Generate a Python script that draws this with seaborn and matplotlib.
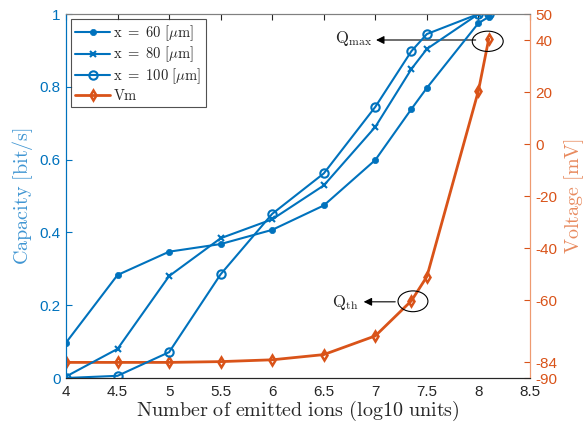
import matplotlib
matplotlib.use("Agg")
import matplotlib.pyplot as plt
import seaborn as sns
import pandas as pd
from matplotlib.patches import Ellipse

sns.set_style("white")
plt.rcParams['font.family'] = ['Liberation Sans', 'DejaVu Sans']
plt.rcParams['mathtext.fontset'] = 'cm'

# data
ions = [4, 4.5, 5, 5.5, 6, 6.5, 7, 7.35, 7.5, 8, 8.1]
cap_60 = [0.097, 0.283, 0.347, 0.368, 0.407, 0.474, 0.599, 0.739, 0.797, 0.975, 0.992]
cap_80 = [0.004, 0.080, 0.280, 0.384, 0.436, 0.529, 0.690, 0.849, 0.904, 1.0, 1.0]
cap_100 = [0.0, 0.006, 0.071, 0.285, 0.451, 0.562, 0.745, 0.898, 0.945, 1.0, 1.0]
vm = [-84, -84, -84, -83.7, -83, -81, -73.8, -60.3, -51, 20.5, 40.4]
labels = [r'$\mathrm{x\ =\ 60\ [}\mu\mathrm{m]}$', r'$\mathrm{x\ =\ 80\ [}\mu\mathrm{m]}$',
          r'$\mathrm{x\ =\ 100\ [}\mu\mathrm{m]}$', r'$\mathrm{Vm}$']
xticks = [4, 4.5, 5, 5.5, 6, 6.5, 7, 7.5, 8, 8.5]
yticks_left = [0, 0.2, 0.4, 0.6, 0.8, 1]
yticks_right = [-90, -84, -60, -40, -20, 0, 20, 40, 50]

blue = '#0072BD'
orange = '#D95319'

fig = plt.figure(figsize=(5.88, 4.32), dpi=100)
ax = fig.add_axes([66/588, 54/432, 464/588, 364/432])
ax2 = ax.twinx()

df = pd.DataFrame({'ions': ions, 'c60': cap_60, 'c80': cap_80, 'c100': cap_100, 'vm': vm})

lw = 1.5
sns.lineplot(data=df, x='ions', y='c60', ax=ax, color=blue, lw=lw, marker='o',
             markersize=4.5, markeredgewidth=0.5, markeredgecolor=blue, label=labels[0])
sns.lineplot(data=df, x='ions', y='c80', ax=ax, color=blue, lw=lw, marker='x',
             markersize=4.5, markeredgewidth=1.5, markeredgecolor=blue, label=labels[1])
sns.lineplot(data=df, x='ions', y='c100', ax=ax, color=blue, lw=lw, marker='o',
             markersize=6, markerfacecolor='none', markeredgewidth=1.5, markeredgecolor=blue,
             label=labels[2])
sns.lineplot(data=df, x='ions', y='vm', ax=ax2, color=orange, lw=2, marker='d',
             markersize=5.5, markerfacecolor='none', markeredgewidth=1.8, markeredgecolor=orange,
             label=labels[3])

ax.set_xlim(4, 8.5)
ax.set_ylim(0, 1)
ax2.set_ylim(-90, 50)
ax.set_xticks(xticks)
ax.set_xticklabels([f'{t:g}' for t in xticks])
ax.set_yticks(yticks_left)
ax.set_yticklabels([f'{t:g}' for t in yticks_left])
ax2.set_yticks(yticks_right)
ax2.set_yticklabels([f'{t:g}' for t in yticks_right])

ax.set_xlabel(r'$\mathrm{Number\ of\ emitted\ ions\ (log10\ units)}$', fontsize=14.5, color='#262626', labelpad=0)
ax.set_ylabel(r'$\mathrm{Capacity\ [bit/s]}$', fontsize=14.5, color='#3F95D2', labelpad=3)
ax2.set_ylabel(r'$\mathrm{Voltage\ [mV]}$', fontsize=14.5, color='#E88A5E', labelpad=3)

ax.tick_params(axis='x', direction='in', length=4, labelsize=11, colors='#262626', top=True, pad=5)
ax.tick_params(axis='y', direction='in', length=4, labelsize=11, colors=blue, pad=4)
ax2.tick_params(axis='y', direction='in', length=4, labelsize=11, colors=orange, pad=4)

for a in (ax, ax2):
    a.spines['top'].set_color('#808080')
    a.spines['bottom'].set_color('#262626')
    a.spines['left'].set_color(blue)
    a.spines['right'].set_color('#EE9A70')
    for s in a.spines.values():
        s.set_linewidth(0.8)
    a.grid(False)

# legend
h1, l1 = ax.get_legend_handles_labels()
h2, l2 = ax2.get_legend_handles_labels()
if ax2.get_legend() is not None:
    ax2.get_legend().remove()
leg = ax.legend(h1 + h2, l1 + l2, loc='upper left', bbox_to_anchor=(0.0, 1.0),
                fontsize=10.5, frameon=True, fancybox=False, edgecolor='#262626',
                handlelength=2.4, handletextpad=0.2, borderpad=0.3, labelspacing=0.12,
                borderaxespad=0.35)
leg.get_frame().set_linewidth(0.8)
ax2.set_zorder(1)
ax.set_zorder(2)
ax.patch.set_visible(False)

# annotations (on ax2)
ax2.add_patch(Ellipse((8.09, 39.5), 0.30, 7.8, fill=False, ec='black', lw=0.8, zorder=5))
ax2.add_patch(Ellipse((7.365, -60.5), 0.29, 8.0, fill=False, ec='black', lw=0.8, zorder=5))
ax2.annotate('', xy=(6.98, 40), xytext=(8.0, 40),
             arrowprops=dict(arrowstyle='-|>', color='black', lw=0.8, mutation_scale=12))
ax2.annotate('', xy=(6.86, -60.7), xytext=(7.22, -60.7),
             arrowprops=dict(arrowstyle='-|>', color='black', lw=0.8, mutation_scale=12))
ax2.text(6.97, 40.5, r'$\mathrm{Q_{max}}$', ha='right', va='center', fontsize=12)
ax2.text(6.84, -61, r'$\mathrm{Q_{th}}$', ha='right', va='center', fontsize=12)

fig.savefig('out.png', dpi=100)
